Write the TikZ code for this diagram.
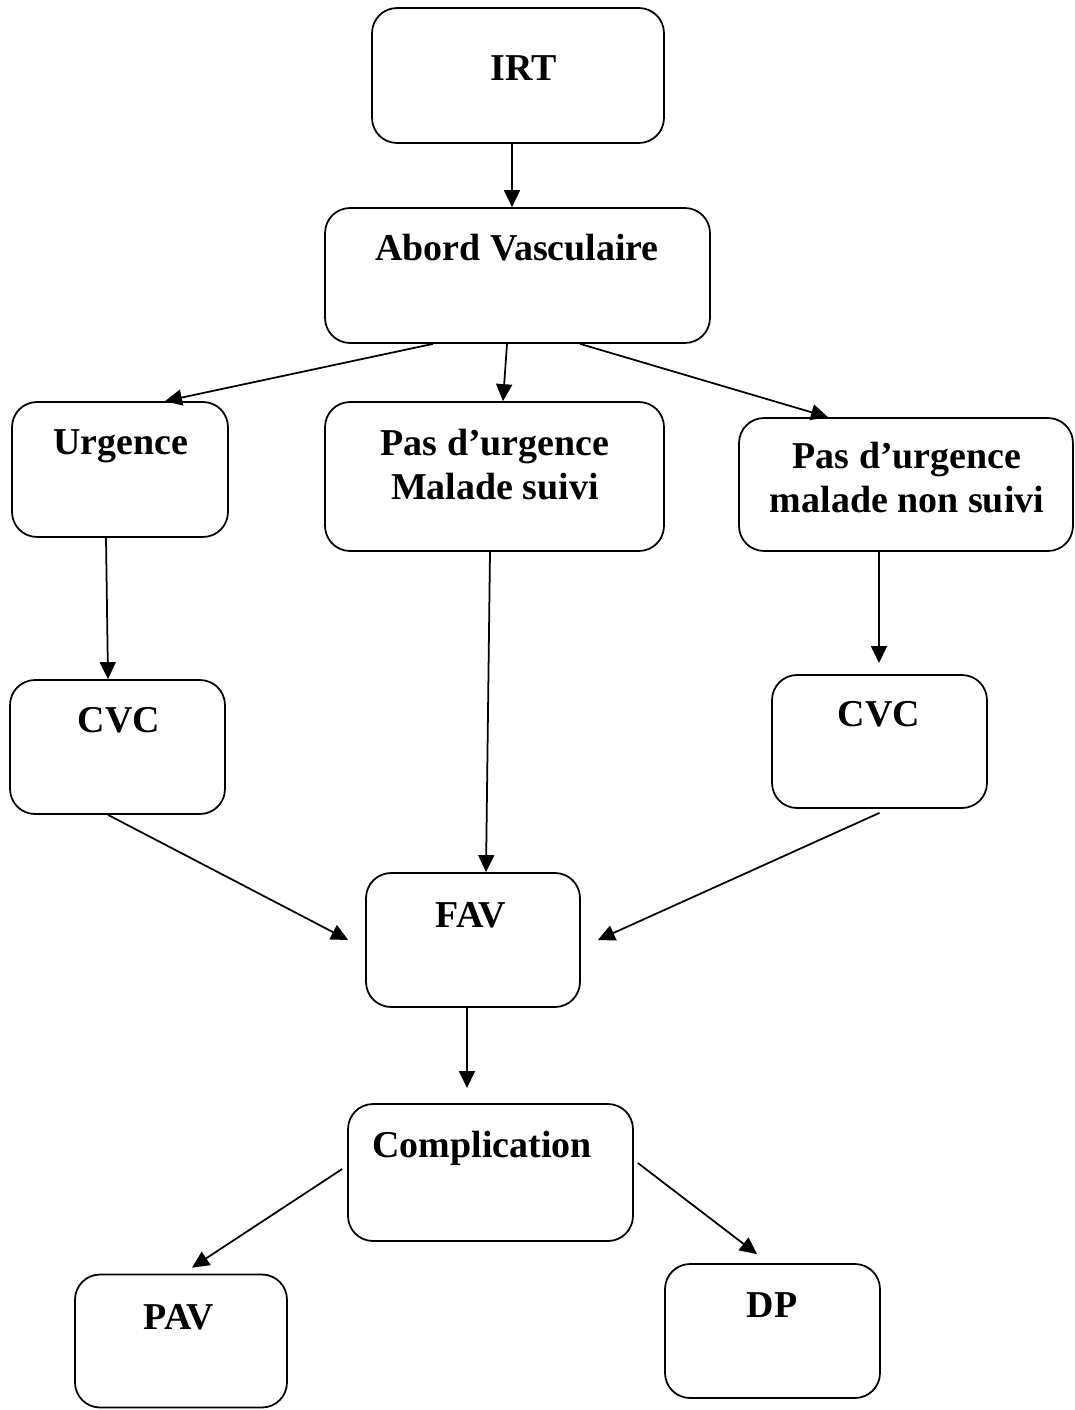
\documentclass[tikz,border=0pt]{standalone}
\usepackage{fontspec}
\setmainfont{Liberation Serif}
\usetikzlibrary{arrows.meta}
\tikzset{
  box/.style={draw, line width=1pt, rounded corners=0.5cm, minimum height=2.7cm},
  lbl/.style={font=\fontsize{21.6}{25}\selectfont\bfseries, align=center},
  arr/.style={line width=1pt, -{Triangle[length=0.34cm,width=0.32cm]}}
}
\begin{document}
\begin{tikzpicture}[x=0.02cm, y=-0.02cm]
    \useasboundingbox (0,0) rectangle (1075,1410);
    % boxes
    \node[box, minimum width=5.84cm] (irt) at (518,75.5) {};
    \node[box, minimum width=7.7cm] (abord) at (517.5,275.5) {};
    \node[box, minimum width=4.32cm] (urg) at (120,469.5) {};
    \node[box, minimum width=6.78cm, minimum height=2.98cm] (suivi) at (494.5,476.5) {};
    \node[box, minimum width=6.68cm, minimum height=2.66cm] (nonsuivi) at (906,484.5) {};
    \node[box, minimum width=4.3cm, minimum height=2.68cm] (cvcl) at (117.5,747) {};
    \node[box, minimum width=4.3cm, minimum height=2.66cm] (cvcr) at (879.5,741.5) {};
    \node[box, minimum width=4.28cm, minimum height=2.68cm] (fav) at (473,940) {};
    \node[box, minimum width=5.7cm, minimum height=2.74cm] (compl) at (490.5,1172.5) {};
    \node[box, minimum width=4.24cm, minimum height=2.66cm] (pav) at (181,1341) {};
    \node[box, minimum width=4.3cm, minimum height=2.68cm] (dp) at (772.5,1331) {};
    % labels
    \node[lbl] (irt-t) at (524,68) {IRT};
    \node[lbl] (abord-t) at (517,248) {Abord Vasculaire};
    \node[lbl] (urg-t) at (121,446) {Urgence};
    \node[lbl] (suivi-t) at (495,465) {Pas d’urgence\\Malade suivi};
    \node[lbl] (nonsuivi-t) at (907,478) {Pas d’urgence\\malade non suivi};
    \node[lbl] (cvcl-t) at (119,720) {CVC};
    \node[lbl] (cvcr-t) at (879,714) {CVC};
    \node[lbl] (fav-t) at (471,915) {FAV};
    \node[lbl] (compl-t) at (482,1148) {Complication};
    \node[lbl] (pav-t) at (179,1317) {PAV};
    \node[lbl] (dp-t) at (772,1305) {DP};
    % free ends
    \coordinate (cvcr-in) at (879,663);
    \coordinate (compl-in) at (467,1088);
    % arrows
    \draw[arr] ([xshift=-0.12cm]irt.south) -- ([xshift=-0.11cm]abord.north);
    \draw[arr] ([xshift=-1.69cm]abord.south) -- ([xshift=0.9cm]urg.north);
    \draw[arr] ([xshift=-0.21cm]abord.south) -- ([xshift=0.17cm]suivi.north);
    \draw[arr] ([xshift=1.25cm]abord.south) -- ([xshift=-1.56cm]nonsuivi.north);
    \draw[arr] ([xshift=-0.28cm]urg.south) -- ([xshift=-0.19cm]cvcl.north);
    \draw[arr] ([xshift=-0.09cm]suivi.south) -- ([xshift=0.26cm]fav.north);
    \draw[arr] ([xshift=-0.54cm]nonsuivi.south) -- (cvcr-in);
    \draw[arr] ([xshift=-0.19cm]cvcl.south) -- ([xshift=-0.34cm]fav.west);
    \draw[arr] ([yshift=-0.08cm]cvcr.south) -- ([xshift=0.34cm]fav.east);
    \draw[arr] ([xshift=-0.12cm]fav.south) -- (compl-in);
    \draw[arr] ([shift={(-0.1cm,0.07cm)}]compl.west) -- ([shift={(0.22cm,0.12cm)}]pav.north);
    \draw[arr] ([shift={(0.08cm,0.19cm)}]compl.east) -- ([shift={(-0.31cm,0.18cm)}]dp.north);
 \end{tikzpicture}
\end{document}
